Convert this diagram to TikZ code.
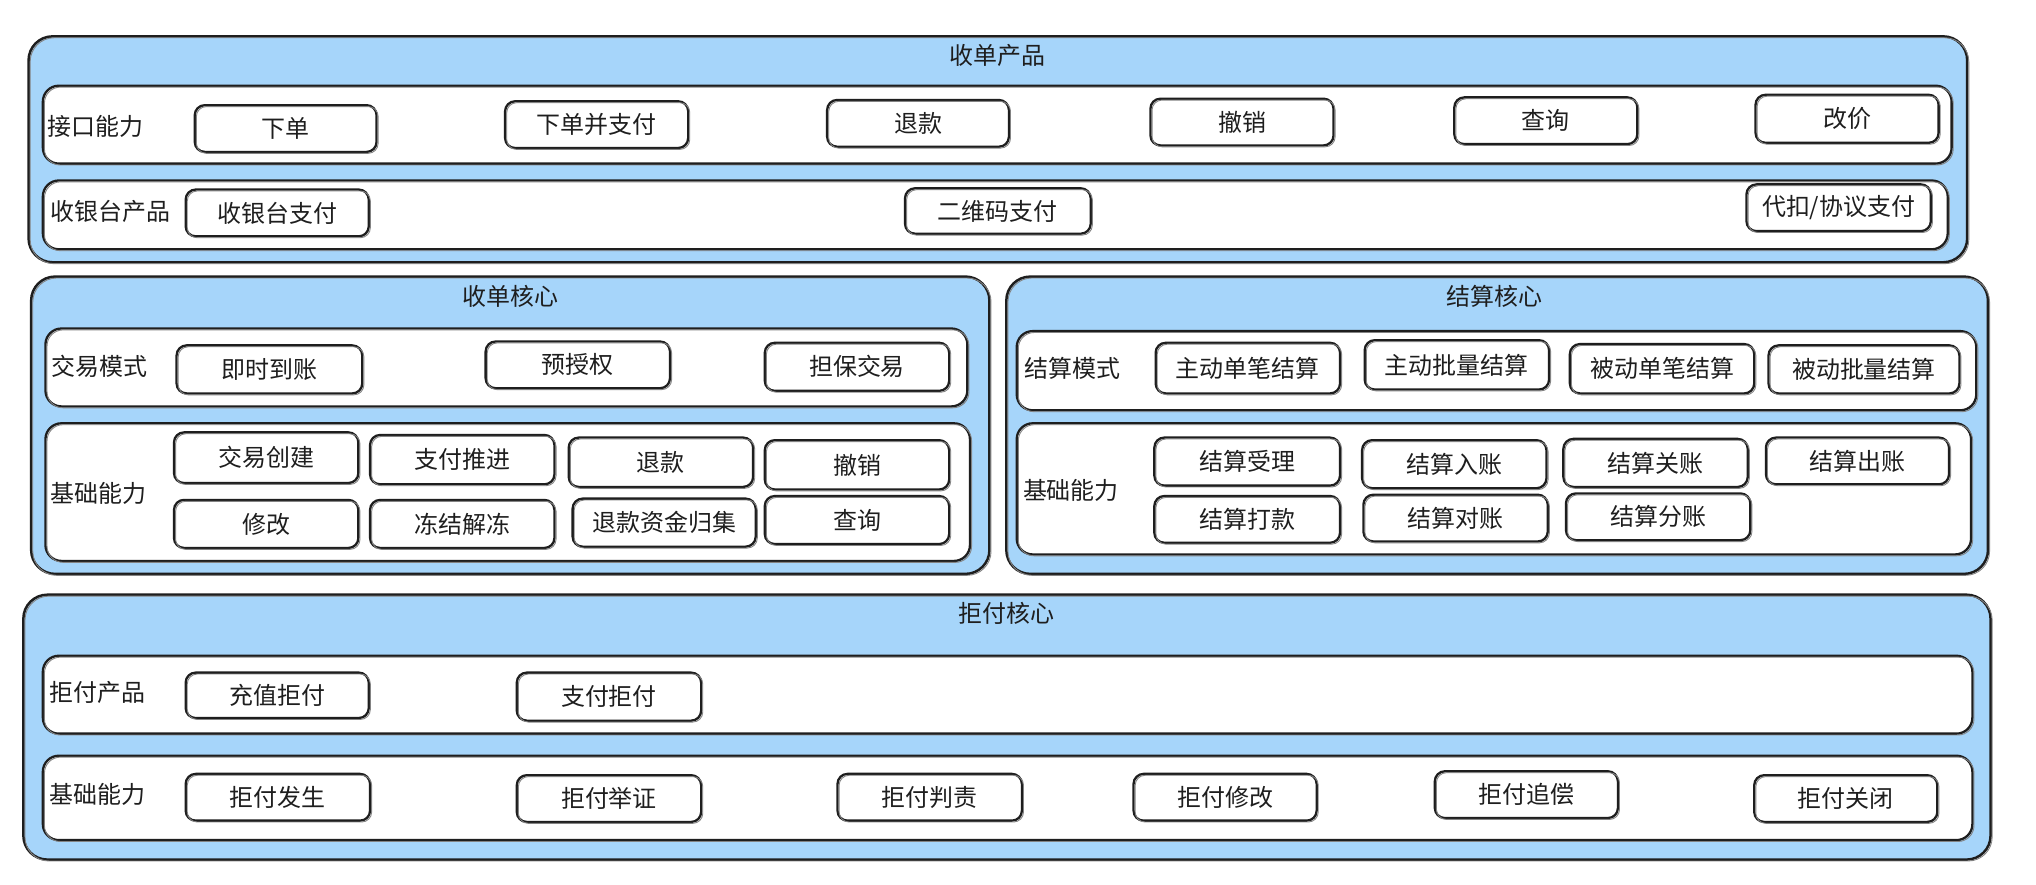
\documentclass[tikz,border=0pt]{standalone}
\usepackage{fontspec}
\setmainfont{Noto Sans CJK SC}
\usetikzlibrary{fit}
\definecolor{panelblue}{HTML}{A6D5FA}
\definecolor{ink}{HTML}{1E1E1E}

% button: name, x1, y1, x2, y2, text
\newcommand\skbtn[6]{%
  \node[btn, fit={(#2,#3) (#4,#5)}] (#1) {};
  \node[inner sep=0pt] (#1t) at (#1.center) {#6};}

\begin{document}
\begin{tikzpicture}[x=0.65pt, y=-0.65pt,
  every node/.style={font=\fontsize{12}{14}\selectfont, text=ink},
  ghost/.style={postaction={draw=ink!55, line width=0.45pt,
      transform canvas={shift={(0.8pt,-0.7pt)}}}},
  core/.style={draw=ink, line width=1.25pt, fill=panelblue, rounded corners=12pt,
      inner sep=0pt, ghost},
  lane/.style={draw=ink, line width=1.15pt, fill=white, rounded corners=8pt,
      inner sep=0pt, ghost},
  btn/.style={draw=ink, line width=1.15pt, fill=white, rounded corners=5pt,
      inner sep=0pt, ghost},
  title/.style={inner sep=1pt},
  lbl/.style={anchor=west, inner sep=1pt}]

\useasboundingbox[fill=white] (0,0) rectangle (1568,681);

% ---------- 收单产品 ----------
\node[core, fit={(22,28) (1515,202)}] (acq) {};
\node[title] (acqT) at (768,43) {收单产品};

\node[lane, fit={(33,66) (1503,126)}] (acqApi) {};
\node[lbl] (acqApiL) at (35,97) {接口能力};
\skbtn{api1}{150}{81}{290}{117}{下单}
\skbtn{api2}{389}{78}{530}{114}{下单并支付}
\skbtn{api3}{637}{77}{777}{113}{退款}
\skbtn{api4}{886}{76}{1027}{112}{撤销}
\skbtn{api5}{1120}{75}{1261}{111}{查询}
\skbtn{api6}{1352}{73}{1493}{110}{改价}

\node[lane, fit={(33,139) (1500,192)}] (acqCash) {};
\node[lbl] (acqCashL) at (37,163) {收银台产品};
\skbtn{cash1}{143}{146}{284}{182}{收银台支付}
\skbtn{cash2}{697}{145}{840}{180}{二维码支付}
\skbtn{cash3}{1345}{142}{1487}{178}{代扣/协议支付}

% ---------- 收单核心 ----------
\node[core, fit={(24,213) (762,442)}] (acqCore) {};
\node[title] (acqCoreT) at (393,228) {收单核心};

\node[lane, fit={(35,253) (745,313)}] (acqMode) {};
\node[lbl] (acqModeL) at (38,282) {交易模式};
\skbtn{mode1}{136}{266}{279}{303}{即时到账}
\skbtn{mode2}{374}{263}{516}{299}{预授权}
\skbtn{mode3}{589}{264}{731}{301}{担保交易}

\node[lane, fit={(35,326) (747,432)}] (acqBase) {};
\node[lbl] (acqBaseL) at (37,380) {基础能力};
\skbtn{ab1}{134}{333}{276}{372}{交易创建}
\skbtn{ab2}{285}{335}{427}{373}{支付推进}
\skbtn{ab3}{438}{337}{580}{375}{退款}
\skbtn{ab4}{589}{339}{731}{377}{撤销}
\skbtn{ab5}{134}{385}{276}{422}{修改}
\skbtn{ab6}{285}{385}{427}{422}{冻结解冻}
\skbtn{ab7}{441}{384}{582}{421}{退款资金归集}
\skbtn{ab8}{589}{382}{731}{419}{查询}

% ---------- 结算核心 ----------
\node[core, fit={(775,213) (1531,442)}] (stlCore) {};
\node[title] (stlCoreT) at (1151,228) {结算核心};

\node[lane, fit={(783,255) (1522,316)}] (stlMode) {};
\node[lbl] (stlModeL) at (787,284) {结算模式};
\skbtn{sm1}{890}{264}{1032}{303}{主动单笔结算}
\skbtn{sm2}{1051}{262}{1193}{300}{主动批量结算}
\skbtn{sm3}{1209}{265}{1351}{303}{被动单笔结算}
\skbtn{sm4}{1362}{266}{1509}{303}{被动批量结算}

\node[lane, fit={(783,326) (1518,427)}] (stlBase) {};
\node[lbl] (stlBaseL) at (786,378) {基础能力};
\skbtn{sb1}{889}{337}{1032}{374}{结算受理}
\skbtn{sb2}{1049}{339}{1191}{376}{结算入账}
\skbtn{sb3}{1204}{338}{1346}{375}{结算关账}
\skbtn{sb4}{1360}{337}{1501}{373}{结算出账}
\skbtn{sb5}{889}{382}{1032}{418}{结算打款}
\skbtn{sb6}{1050}{381}{1192}{417}{结算对账}
\skbtn{sb7}{1206}{380}{1348}{416}{结算分账}

% ---------- 拒付核心 ----------
\node[core, fit={(18,458) (1533,662)}] (cbCore) {};
\node[title] (cbCoreT) at (775,472) {拒付核心};

\node[lane, fit={(33,505) (1519,565)}] (cbProd) {};
\node[lbl] (cbProdL) at (36,533) {拒付产品};
\skbtn{cp1}{143}{518}{284}{553}{充值拒付}
\skbtn{cp2}{398}{518}{540}{555}{支付拒付}

\node[lane, fit={(33,582) (1519,647)}] (cbBase) {};
\node[lbl] (cbBaseL) at (36,612) {基础能力};
\skbtn{cb1}{143}{596}{285}{632}{拒付发生}
\skbtn{cb2}{398}{597}{540}{633}{拒付举证}
\skbtn{cb3}{645}{596}{787}{632}{拒付判责}
\skbtn{cb4}{873}{596}{1014}{632}{拒付修改}
\skbtn{cb5}{1105}{594}{1246}{630}{拒付追偿}
\skbtn{cb6}{1351}{597}{1492}{633}{拒付关闭}

\end{tikzpicture}
\end{document}
